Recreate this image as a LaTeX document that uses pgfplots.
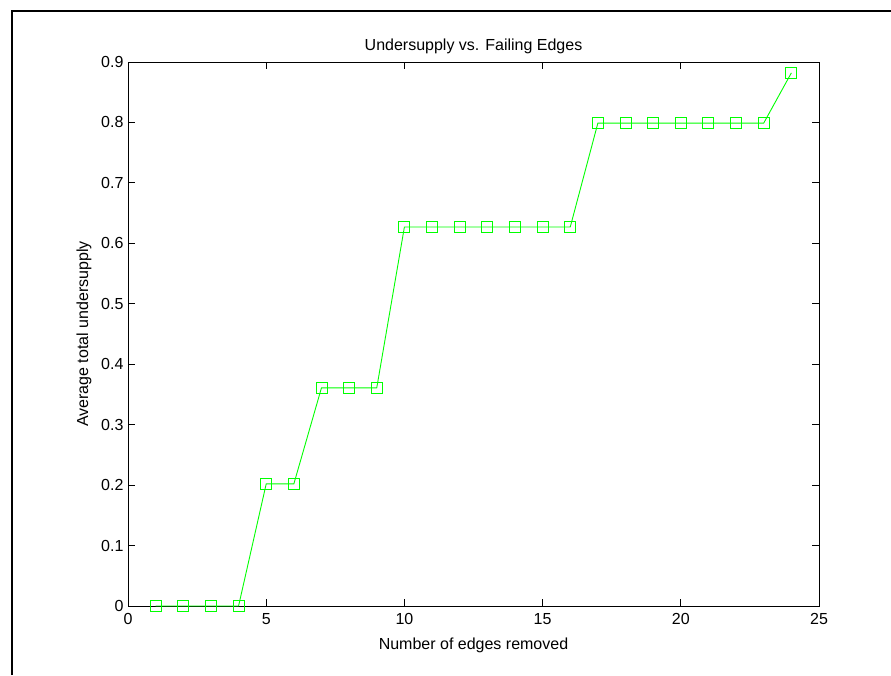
\documentclass[border=0pt]{standalone}
\usepackage{pgfplots}
\pgfplotsset{compat=1.18}
\usepackage{fontspec}
\setmainfont{Liberation Sans}
\definecolor{mgreen}{RGB}{0,255,0}
\begin{document}
\begin{tikzpicture}[x=1pt,y=1pt]
\path[use as bounding box] (0,0) rectangle (891,675);
\draw[line width=1.2pt] (12,0) -- (12,664) -- (891,664);
\begin{axis}[
  at={(128pt,69pt)}, anchor=south west,
  scale only axis, width=691pt, height=544pt,
  xmin=0, xmax=25, ymin=0, ymax=0.9,
  xtick={0,5,...,25},
  ytick={0,0.1,...,0.9},
  yticklabels={0,0.1,0.2,0.3,0.4,0.5,0.6,0.7,0.8,0.9},
  tick align=inside, major tick length=7pt,
  axis line style={line width=0.9pt},
  every tick/.style={black, line width=0.9pt},
  /pgf/number format/assume math mode=true,
  tick label style={font=\fontsize{16}{18}\selectfont},
  xticklabel style={yshift=-4pt},
  yticklabel style={xshift=-1pt},
  label style={font=\fontsize{16}{18}\selectfont},
  title style={font=\fontsize{16}{18}\selectfont, yshift=-1pt},
  title={Undersupply vs. Failing Edges},
  xlabel={Number of edges removed},
  ylabel={Average total undersupply},
  xlabel style={yshift=-6pt},
  ylabel style={yshift=3pt},
  clip=false,
]
\addplot[mgreen, line width=0.9pt, mark=square, mark size=5.5pt, mark options={solid, line width=0.9pt}] coordinates {
(1,0) (2,0) (3,0) (4,0) (5,0.202) (6,0.202) (7,0.361) (8,0.361) (9,0.361)
(10,0.627) (11,0.627) (12,0.627) (13,0.627) (14,0.627) (15,0.627) (16,0.627)
(17,0.799) (18,0.799) (19,0.799) (20,0.799) (21,0.799) (22,0.799) (23,0.799)
(24,0.882)
};
\end{axis}
\end{tikzpicture}
\end{document}
